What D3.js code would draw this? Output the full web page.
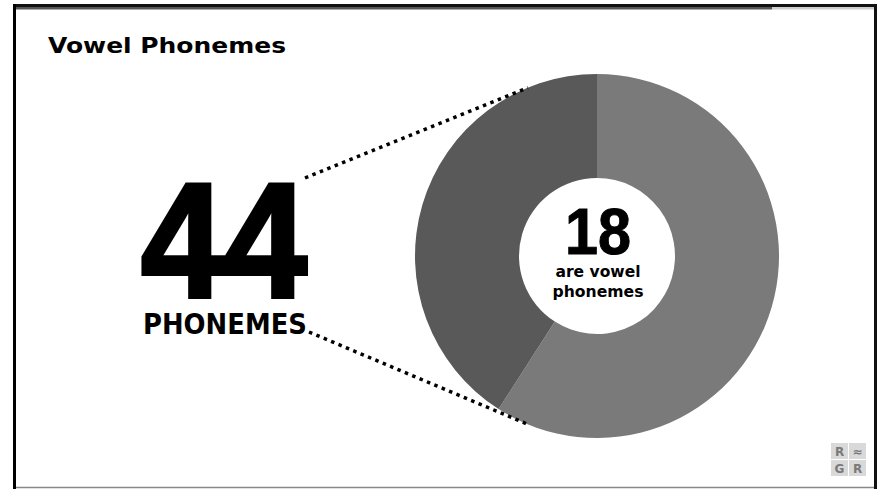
<!DOCTYPE html>
<html>
<head>
<meta charset="utf-8">
<script src="https://cdn.jsdelivr.net/npm/d3@7"></script>
<style>
  body { margin: 0; background: #fff; }
  svg { display: block; }
  text { font-family: "DejaVu Sans", sans-serif; }
  .num { font-family: "Liberation Sans", Arial, sans-serif; }
</style>
</head>
<body>
<div class="canvas"></div>
<script>
// data
const categories = ["Consonants", "Vowels"];
const counts = [26, 18];
const totalLabel = "44";
const totalCaption = "PHONEMES";
const centerValue = "18";
const centerCaption = ["are vowel", "phonemes"];
const title = "Vowel Phonemes";

const width = 880, height = 489;

const svg = d3.select(".canvas")
  .append("svg")
    .attr("width", width)
    .attr("height", height);

// slide frame
svg.append("line").attr("x1", 16).attr("x2", 772).attr("y1", 8).attr("y2", 8)
  .attr("stroke", "#555").attr("stroke-width", 3);
svg.append("line").attr("x1", 772).attr("x2", 875).attr("y1", 8).attr("y2", 8)
  .attr("stroke", "#ccc").attr("stroke-width", 3);
svg.append("line").attr("x1", 14).attr("x2", 877).attr("y1", 5.5).attr("y2", 5.5)
  .attr("stroke", "#111").attr("stroke-width", 3);
svg.append("line").attr("x1", 14.5).attr("x2", 14.5).attr("y1", 4).attr("y2", 489)
  .attr("stroke", "#000").attr("stroke-width", 3);
svg.append("line").attr("x1", 875.5).attr("x2", 875.5).attr("y1", 4).attr("y2", 489)
  .attr("stroke", "#111").attr("stroke-width", 3);
svg.append("line").attr("x1", 16).attr("x2", 874).attr("y1", 487.5).attr("y2", 487.5)
  .attr("stroke", "#888").attr("stroke-width", 1.5);

// title
svg.append("text")
  .attr("x", 48).attr("y", 53)
  .attr("font-size", 22).attr("font-weight", "bold")
  .attr("textLength", 238).attr("lengthAdjust", "spacingAndGlyphs")
  .text(title);

// donut
const cx = 597, cy = 256, outer = 182, inner = 78;
const color = d3.scaleOrdinal().domain(categories).range(["#7a7a7a", "#595959"]);

const pie = d3.pie().sort(null).value(d => d.value);
const arc = d3.arc().innerRadius(inner).outerRadius(outer);
const slices = pie(categories.map((c, i) => ({ name: c, value: counts[i] })));

const graph = svg.append("g").attr("transform", `translate(${cx}, ${cy})`);
graph.selectAll("path")
  .data(slices)
  .enter().append("path")
    .attr("d", arc)
    .attr("fill", d => color(d.data.name));

// dotted connector lines, ending on the outer rim near the vowel slice
const vowel = slices[1];
const rim = a => [cx + outer * Math.sin(a), cy - outer * Math.cos(a)];
const topPt = rim(vowel.endAngle - 0.39);
const botPt = rim(vowel.startAngle - 0.19);
[[[305, 178], topPt], [[309, 332], botPt]].forEach(([a, b]) => {
  svg.append("line")
    .attr("x1", a[0]).attr("y1", a[1]).attr("x2", b[0]).attr("y2", b[1])
    .attr("stroke", "#000").attr("stroke-width", 3.5)
    .attr("stroke-dasharray", "3.5,4.5");
});

// big total
svg.append("text")
  .attr("class", "num")
  .attr("x", 224).attr("y", 297)
  .attr("text-anchor", "middle")
  .attr("font-size", 164).attr("font-weight", "bold")
  .attr("stroke", "#000").attr("stroke-width", 4)
  .attr("textLength", 166).attr("lengthAdjust", "spacingAndGlyphs")
  .text(totalLabel);

svg.append("text")
  .attr("x", 225).attr("y", 334)
  .attr("text-anchor", "middle")
  .attr("font-size", 28).attr("font-weight", "bold")
  .attr("textLength", 164).attr("lengthAdjust", "spacingAndGlyphs")
  .text(totalCaption);

// centre label
graph.append("text")
  .attr("class", "num")
  .attr("x", 1).attr("y", -2)
  .attr("text-anchor", "middle")
  .attr("font-size", 64).attr("font-weight", "bold")
  .attr("stroke", "#000").attr("stroke-width", 1)
  .attr("textLength", 66).attr("lengthAdjust", "spacingAndGlyphs")
  .text(centerValue);

graph.selectAll(".cap")
  .data(centerCaption)
  .enter().append("text")
    .attr("class", "cap")
    .attr("x", 1)
    .attr("y", (d, i) => 21 + i * 20)
    .attr("text-anchor", "middle")
    .attr("font-size", 15).attr("font-weight", "bold")
    .attr("textLength", (d, i) => i === 0 ? 85 : 91)
    .attr("lengthAdjust", "spacingAndGlyphs")
    .text(d => d);

// small logo, bottom right
const logo = svg.append("g").attr("transform", "translate(831, 443)");
const logoCells = [["R", 0, 0], ["≈", 18, 0], ["G", 0, 17], ["R", 18, 17]];
logo.selectAll("rect")
  .data(logoCells)
  .enter().append("rect")
    .attr("x", d => d[1]).attr("y", d => d[2])
    .attr("width", 17).attr("height", 16)
    .attr("fill", "#d9d9d9");
logo.selectAll("text")
  .data(logoCells)
  .enter().append("text")
    .attr("x", d => d[1] + 8.5).attr("y", d => d[2] + 12.5)
    .attr("text-anchor", "middle")
    .attr("font-size", 12).attr("font-weight", "bold")
    .attr("fill", "#7a7a7a")
    .text(d => d[0]);
</script>
</body>
</html>
